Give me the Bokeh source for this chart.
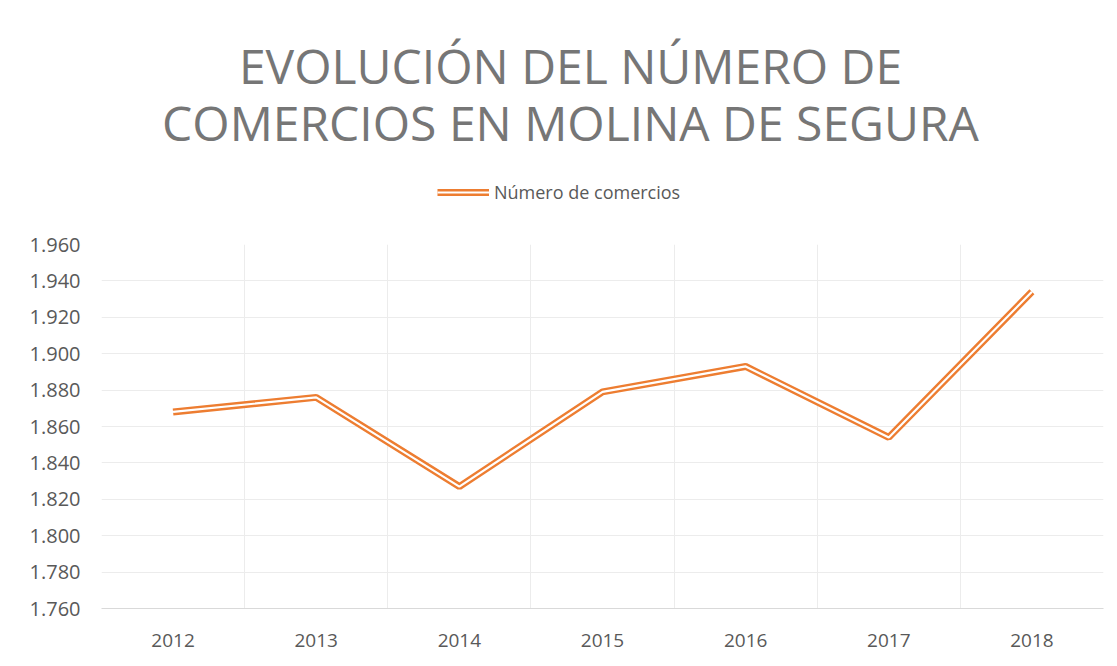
from bokeh.plotting import figure
from bokeh.layouts import column
from bokeh.models import ColumnDataSource, FixedTicker, Label, Legend, LegendItem
from bokeh.embed import file_html
from bokeh.resources import INLINE

years = ["2012", "2013", "2014", "2015", "2016", "2017", "2018"]
comercios = [1868, 1876, 1827, 1879, 1893, 1854, 1934]
y_ticks = [1760, 1780, 1800, 1820, 1840, 1860, 1880, 1900, 1920, 1940, 1960]
y_tick_labels = ["1.760", "1.780", "1.800", "1.820", "1.840", "1.860",
                 "1.880", "1.900", "1.920", "1.940", "1.960"]
title_lines = ["EVOLUCIÓN DEL NÚMERO DE", "COMERCIOS EN MOLINA DE SEGURA"]
series_name = "Número de comercios"

ORANGE = "#ED7D31"
GRAY_TXT = "#595959"
GRID = "#ececec"
FONT = "Open Sans"
LEFT = 101
FRAME_W = 1002
RIGHT = 12
HEAD_H = 232

# ---------- header: title + legend ----------
head = figure(frame_width=FRAME_W, height=HEAD_H, x_range=(0, FRAME_W),
              y_range=(0, HEAD_H), output_backend="svg", toolbar_location=None,
              min_border_left=LEFT, min_border_right=RIGHT,
              min_border_top=0, min_border_bottom=0)
head.axis.visible = False
head.grid.visible = False
head.outline_line_color = None
head.background_fill_color = "white"
head.border_fill_color = "white"

for txt, yy in zip(title_lines, [HEAD_H - 65, HEAD_H - 122]):
    head.add_layout(Label(x=570 - LEFT, y=yy, text=txt, text_align="center",
                          text_baseline="middle", text_font=FONT,
                          text_font_size="48px", text_color="#767676"))

hidden = ColumnDataSource(dict(x=[-100, -90], y=[-100, -100]))
l_outer = head.line("x", "y", source=hidden, line_color=ORANGE, line_width=7)
l_inner = head.line("x", "y", source=hidden, line_color="white", line_width=2.2)
legend = Legend(items=[LegendItem(label=series_name, renderers=[l_outer, l_inner])],
                location=(437 - LEFT, 28), orientation="horizontal",
                label_text_font=FONT, label_text_font_size="18px",
                label_text_color=GRAY_TXT, glyph_width=52, glyph_height=14,
                label_standoff=5, border_line_color=None,
                background_fill_alpha=0, padding=0, margin=0)
head.add_layout(legend, "center")

# ---------- main chart ----------
src = ColumnDataSource(dict(x=years, y=comercios))

p = figure(x_range=years, y_range=(1760, 1960),
           frame_width=FRAME_W, frame_height=364,
           output_backend="svg", toolbar_location=None,
           min_border_left=LEFT, min_border_right=RIGHT,
           min_border_bottom=56, min_border_top=12,
           background_fill_color="white", border_fill_color="white")
p.outline_line_color = None
p.x_range.range_padding = 0

p.line("x", "y", source=src, line_color=ORANGE, line_width=7)
p.line("x", "y", source=src, line_color="white", line_width=2.2)

# grids
p.ygrid.ticker = FixedTicker(ticks=y_ticks)
p.ygrid.grid_line_color = GRID
p.xgrid.ticker = FixedTicker(ticks=list(range(len(years) + 1)))
p.xgrid.grid_line_color = GRID

# y axis
p.yaxis.ticker = FixedTicker(ticks=y_ticks)
p.yaxis.major_label_overrides = {t: l for t, l in zip(y_ticks, y_tick_labels)}
p.yaxis.axis_line_color = None
p.yaxis.major_tick_line_color = None
p.yaxis.minor_tick_line_color = None
p.yaxis.major_label_standoff = 15
p.yaxis.major_label_text_font = FONT
p.yaxis.major_label_text_font_size = "20px"
p.yaxis.major_label_text_color = GRAY_TXT

# x axis
p.xaxis.axis_line_color = "#d9d9d9"
p.xaxis.major_tick_line_color = None
p.xaxis.major_label_standoff = 19
p.xaxis.major_label_text_font = FONT
p.xaxis.major_label_text_font_size = "19px"
p.xaxis.major_label_text_color = GRAY_TXT

layout = column(head, p, spacing=0)
open("out.html", "w").write(file_html(layout, INLINE))
